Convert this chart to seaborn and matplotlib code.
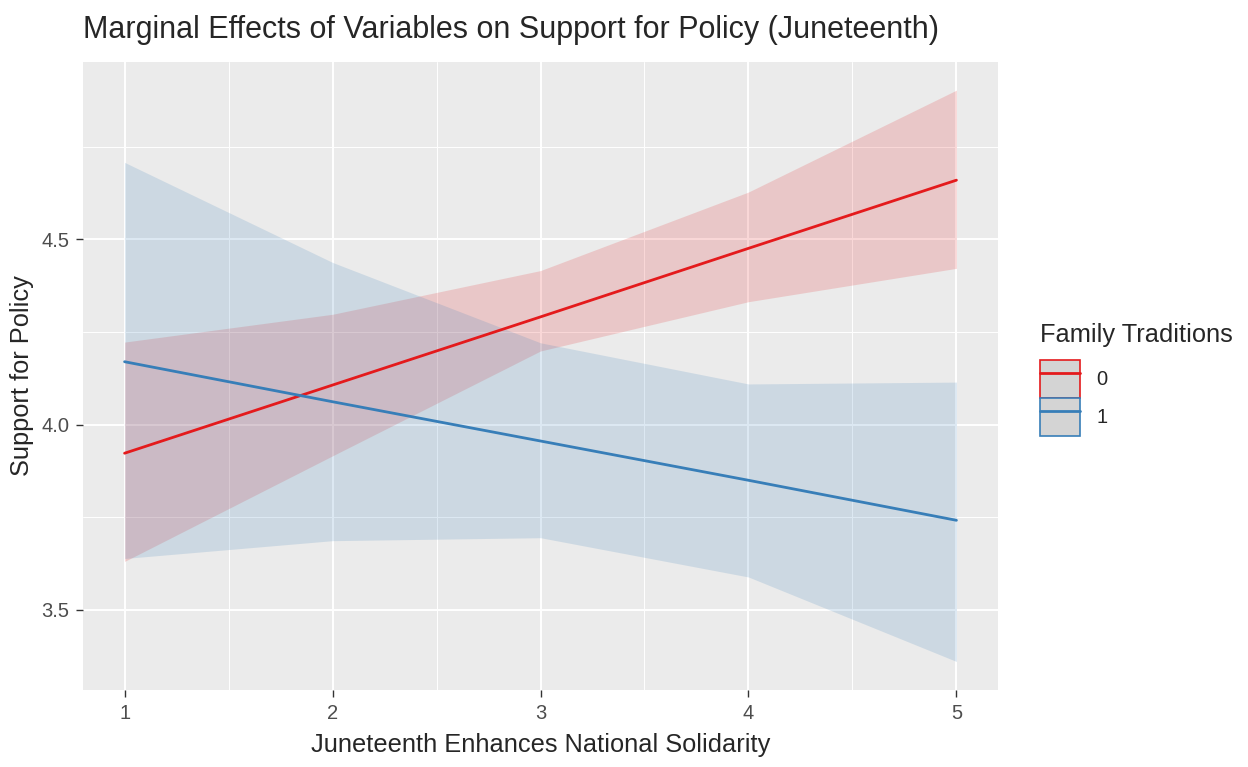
import numpy as np
import pandas as pd
import seaborn as sns
import matplotlib.pyplot as plt
from matplotlib.patches import Patch
from matplotlib.lines import Line2D

# values
solidarity = [1, 2, 3, 4, 5]
groups = ['0', '1']
fit_0 = [3.923, 4.107, 4.291, 4.476, 4.660]
low_0 = [3.631, 3.916, 4.199, 4.332, 4.422]
high_0 = [4.223, 4.298, 4.416, 4.628, 4.903]
fit_1 = [4.170, 4.062, 3.956, 3.850, 3.742]
low_1 = [3.639, 3.687, 3.695, 3.589, 3.361]
high_1 = [4.708, 4.438, 4.221, 4.110, 4.115]

palette = {'0': '#E41A1C', '1': '#377EB8'}

df = pd.DataFrame({
    'x': solidarity * 2,
    'fit': fit_0 + fit_1,
    'low': low_0 + low_1,
    'high': high_0 + high_1,
    'group': [groups[0]] * 5 + [groups[1]] * 5,
})

sns.set_theme(style='darkgrid', rc={
    'axes.facecolor': '#EBEBEB',
    'grid.color': 'white',
    'axes.edgecolor': '#EBEBEB',
    'xtick.color': '#333333',
    'ytick.color': '#333333',
})
plt.rcParams['font.family'] = ['Liberation Sans', 'DejaVu Sans']

fig = plt.figure(figsize=(12.48, 7.67), dpi=100)
ax = fig.add_axes([0.0665, 0.1004, 0.7332, 0.8188])

# confidence bands, then the fitted lines
for g in groups:
    sub = df[df['group'] == g]
    ax.fill_between(sub['x'], sub['low'], sub['high'], color=palette[g],
                    alpha=0.17, linewidth=0, zorder=2)
sns.lineplot(data=df, x='x', y='fit', hue='group', palette=palette,
             linewidth=2, ax=ax, legend=False, zorder=3)

ax.set_xlim(0.8, 5.2)
ax.set_ylim(3.284, 4.979)
ax.set_xticks(solidarity)
ax.set_yticks([3.5, 4.0, 4.5])
ax.set_yticklabels(['3.5', '4.0', '4.5'])
ax.set_xticks([1.5, 2.5, 3.5, 4.5], minor=True)
ax.set_yticks([3.75, 4.25, 4.75], minor=True)
ax.grid(which='major', color='white', linewidth=1.4)
ax.grid(which='minor', color='white', linewidth=0.7)
ax.tick_params(which='major', length=5, width=1, color='#333333',
               labelsize=14.5, labelcolor='#4D4D4D', pad=5, bottom=True, left=True)
ax.tick_params(which='minor', length=0)
for s in ax.spines.values():
    s.set_visible(False)

ax.set_xlabel('Juneteenth Enhances National Solidarity', fontsize=18.3, labelpad=7)
ax.set_ylabel('Support for Policy', fontsize=18.3, labelpad=5)
ax.set_title('Marginal Effects of Variables on Support for Policy (Juneteenth)',
             fontsize=22, loc='left', pad=17)

# legend keys: grey box with coloured outline plus the line
handles = []
for g in groups:
    box = Patch(facecolor='#D4D4D4', edgecolor=palette[g], linewidth=1.2, alpha=1)
    ln = Line2D([], [], color=palette[g], linewidth=2)
    handles.append((box, ln))
leg = ax.legend(handles, groups, title='Family Traditions', loc='center left',
                bbox_to_anchor=(1.037, 0.495), frameon=False, fontsize=14.5,
                title_fontsize=18.3, handlelength=2.0, handleheight=2.5,
                labelspacing=0.0, handletextpad=0.8, borderaxespad=0.0)
leg._legend_box.align = 'left'
leg._legend_box.sep = 10

fig.savefig('out.png', dpi=100)
